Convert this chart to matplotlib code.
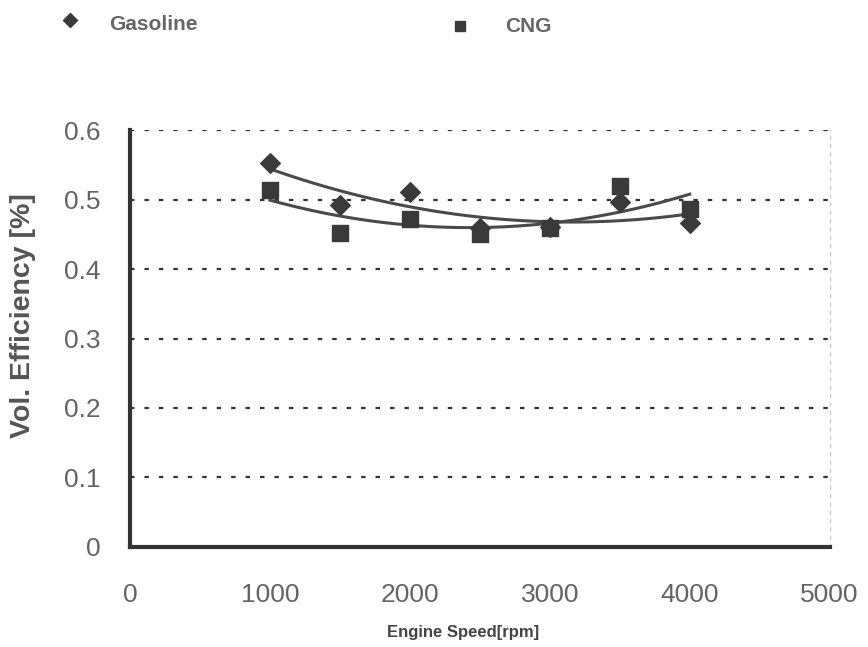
import numpy as np
import matplotlib.pyplot as plt
from matplotlib.lines import Line2D

plt.rcParams['font.family'] = ['Liberation Sans', 'DejaVu Sans']

# engine speed and measured volumetric efficiency
speed = [1000, 1500, 2000, 2500, 3000, 3500, 4000]
gasoline = [0.553, 0.492, 0.511, 0.459, 0.460, 0.497, 0.466]
cng = [0.514, 0.452, 0.472, 0.451, 0.459, 0.519, 0.487]

yticks = [0, 0.1, 0.2, 0.3, 0.4, 0.5, 0.6]
xticks = [0, 1000, 2000, 3000, 4000, 5000]

fig = plt.figure(figsize=(8.68, 6.47), dpi=100)
ax = fig.add_axes([0.1498, 0.1546, 0.806, 0.6444])

mark_col = '#3a3a3a'
ax.scatter(speed, gasoline, marker='D', s=100, color=mark_col, zorder=3)
ax.scatter(speed, cng, marker='s', s=140, color=mark_col, zorder=3)

# second order trendlines
xs = np.linspace(1000, 4000, 100)
for ys in (gasoline, cng):
    coef = np.polyfit(speed, ys, 2)
    ax.plot(xs, np.polyval(coef, xs), color='#4a4a4a', lw=2.2, zorder=2)

ax.set_xlim(0, 5000)
ax.set_ylim(0, 0.6)
ax.set_xticks(xticks)
ax.set_xticklabels([str(v) for v in xticks])
ax.set_yticks(yticks)
ax.set_yticklabels(['0'] + ['%.1f' % v for v in yticks[1:]])
ax.tick_params(length=0, labelsize=19, colors='#646464')
ax.tick_params(axis='x', pad=26)
ax.tick_params(axis='y', pad=21)

for y in yticks[1:]:
    ax.axhline(y, color='#333333', lw=1.6, linestyle=(0, (2, 4.5)), zorder=1)

for s in ('left', 'bottom'):
    ax.spines[s].set_color('#333333')
    ax.spines[s].set_linewidth(3)
ax.spines['top'].set_visible(False)
ax.spines['right'].set_color('#cccccc')
ax.spines['right'].set_linestyle((0, (2, 4)))
ax.spines['right'].set_linewidth(1)

fig.text(463 / 868, 1 - 633 / 647, 'Engine Speed[rpm]', fontsize=12, fontweight='bold',
         color='#444444', ha='center', va='center')
fig.text(23 / 868, 1 - 316 / 647, 'Vol. Efficiency [%]', fontsize=20.5, fontweight='bold',
         color='#555555', ha='center', va='center', rotation=90)

# legend row above the plot
fig.add_artist(Line2D([70 / 868], [1 - 20 / 647], marker='D', ms=7.5, color=mark_col,
                      transform=fig.transFigure))
fig.text(109 / 868, 1 - 25 / 647, 'Gasoline', fontsize=15, fontweight='bold',
         color='#666666', va='center')
fig.add_artist(Line2D([460 / 868], [1 - 26 / 647], marker='s', ms=7, color=mark_col,
                      transform=fig.transFigure))
fig.text(505 / 868, 1 - 27 / 647, 'CNG', fontsize=15, fontweight='bold',
         color='#666666', va='center')

fig.savefig('out.png', dpi=100)
